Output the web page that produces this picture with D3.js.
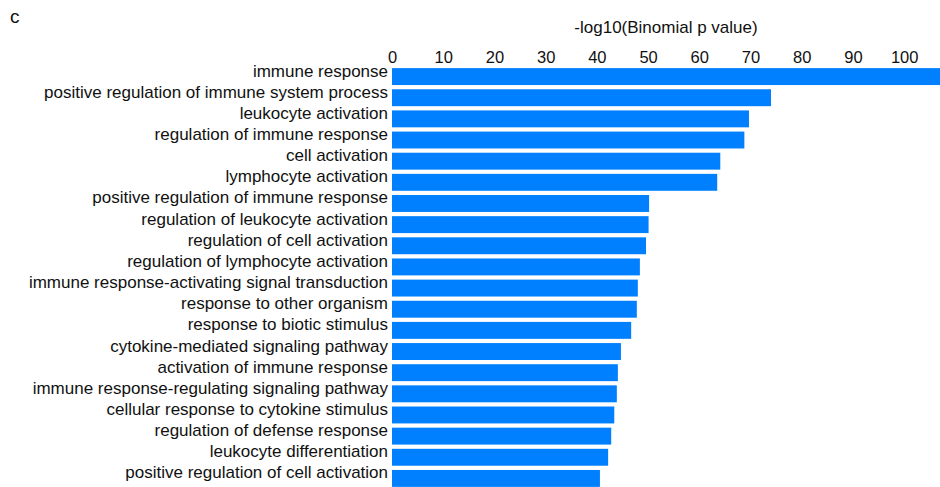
<!DOCTYPE html>
<html>
<head>
<meta charset="utf-8">
<script src="https://cdn.jsdelivr.net/npm/d3@7/dist/d3.min.js"></script>
<style>
  html, body { margin: 0; padding: 0; background: #fff; }
  svg { display: block; font-family: "Liberation Sans", Arial, sans-serif; }
</style>
</head>
<body>
<svg id="chart" width="940" height="487"></svg>
<script>
const categories = [
  "immune response",
  "positive regulation of immune system process",
  "leukocyte activation",
  "regulation of immune response",
  "cell activation",
  "lymphocyte activation",
  "positive regulation of immune response",
  "regulation of leukocyte activation",
  "regulation of cell activation",
  "regulation of lymphocyte activation",
  "immune response-activating signal transduction",
  "response to other organism",
  "response to biotic stimulus",
  "cytokine-mediated signaling pathway",
  "activation of immune response",
  "immune response-regulating signaling pathway",
  "cellular response to cytokine stimulus",
  "regulation of defense response",
  "leukocyte differentiation",
  "positive regulation of cell activation"
];
const values = [108, 74.0, 69.7, 68.8, 64.1, 63.5, 50.2, 50.1, 49.6, 48.4, 48.0, 47.8, 46.7, 44.7, 44.1, 43.9, 43.4, 42.8, 42.2, 40.6];
const tickValues = [0, 10, 20, 30, 40, 50, 60, 70, 80, 90, 100];
const axisTitle = "-log10(Binomial p value)";
const panelLabel = "c";

const svg = d3.select("#chart");
const W = 940, H = 487;
const x0 = 392;

const x = d3.scaleLinear().domain([0, 107]).range([x0, W]);
const y = d3.scaleBand().domain(categories).range([66, 489]).paddingInner(0.2).paddingOuter(0.1);

svg.append("defs").append("clipPath").attr("id", "clip")
  .append("rect").attr("x", 0).attr("y", 0).attr("width", W).attr("height", H);

const data = categories.map((c, i) => ({ c, v: values[i] }));

svg.append("g").attr("clip-path", "url(#clip)")
  .selectAll("rect").data(data).join("rect")
  .attr("x", x(0))
  .attr("y", d => y(d.c))
  .attr("width", d => Math.min(x(d.v), W) - x(0))
  .attr("height", y.bandwidth())
  .attr("fill", "#007FFF");

// category labels
svg.append("g").selectAll("text").data(data).join("text")
  .attr("x", x0 - 4)
  .attr("y", d => y(d.c) + y.bandwidth() / 2)
  .attr("text-anchor", "end")
  .attr("font-size", 17)
  .attr("fill", "#111")
  .text(d => d.c);

// top axis
const axis = d3.axisTop(x).tickValues(tickValues).tickSize(0).tickPadding(0);
const gAxis = svg.append("g").attr("transform", "translate(0,63)").call(axis);
gAxis.select(".domain").remove();
gAxis.selectAll("text")
  .attr("font-size", 16.5)
  .attr("font-family", "'Liberation Sans', Arial, sans-serif")
  .attr("fill", "#111")
  .attr("dy", 0);

// axis title
svg.append("text")
  .attr("x", (x0 + W) / 2)
  .attr("y", 33)
  .attr("text-anchor", "middle")
  .attr("font-size", 17)
  .attr("fill", "#111")
  .text(axisTitle);

// panel label
svg.append("text")
  .attr("x", 10)
  .attr("y", 23)
  .attr("font-size", 19)
  .attr("fill", "#111")
  .text(panelLabel);
</script>
</body>
</html>
